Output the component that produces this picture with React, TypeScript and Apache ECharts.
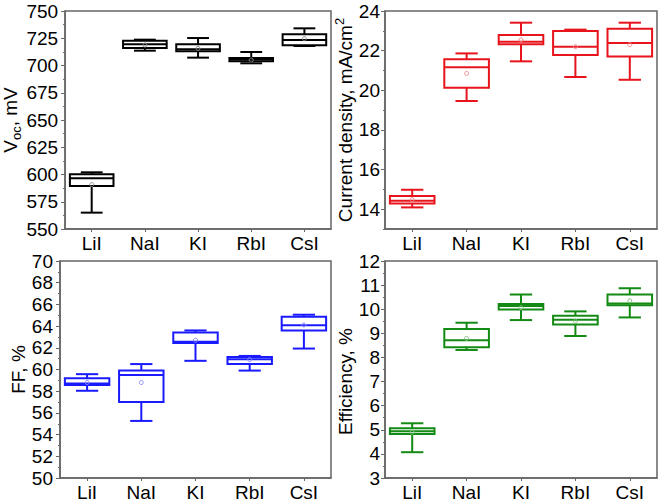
import React, { useEffect, useRef } from "react";
import * as echarts from "echarts";

const categories = ["LiI", "NaI", "KI", "RbI", "CsI"];

// Voc, mV
const vocLow = [565, 713.6, 707.2, 702, 717.9];
const vocQ1 = [589.4, 716, 713, 703.8, 718.5];
const vocMed = [596.5, 719.4, 714.8, 705.4, 723.4];
const vocQ3 = [600.2, 722.8, 719.4, 706.9, 728.6];
const vocHigh = [602, 723.7, 725.2, 712.4, 734.1];
const vocMean = [590.7, 718.8, 715.7, 705, 724.6];

// Current density, mA/cm2
const jscLow = [14.09, 19.46, 21.46, 20.67, 20.53];
const jscQ1 = [14.29, 20.13, 22.32, 21.78, 21.71];
const jscMed = [14.43, 21.16, 22.45, 22.2, 22.39];
const jscQ3 = [14.66, 21.56, 22.79, 22.99, 23.11];
const jscHigh = [14.98, 21.86, 23.41, 23.06, 23.41];
const jscMean = [14.48, 20.85, 22.54, 22.2, 22.3];

// FF, %
const ffLow = [58.04, 55.26, 60.8, 59.9, 61.93];
const ffQ1 = [58.56, 57.0, 62.45, 60.5, 63.6];
const ffMed = [58.72, 59.5, 62.55, 60.95, 64.07];
const ffQ3 = [59.2, 59.9, 63.4, 61.16, 64.86];
const ffHigh = [59.57, 60.5, 63.6, 61.25, 65.05];
const ffMean = [58.8, 58.8, 62.7, 60.9, 64.1];

// Efficiency, %
const effLow = [4.07, 8.31, 9.55, 8.89, 9.66];
const effQ1 = [4.83, 8.42, 9.99, 9.37, 10.16];
const effMed = [4.94, 8.71, 10.13, 9.56, 10.24];
const effQ3 = [5.06, 9.18, 10.22, 9.73, 10.61];
const effHigh = [5.27, 9.44, 10.61, 9.91, 10.87];
const effMean = [4.9, 8.79, 10.06, 9.51, 10.35];

// Tick values
const vocMajor = [550, 575, 600, 625, 650, 675, 700, 725, 750];
const vocMinor = [562.5, 587.5, 612.5, 637.5, 662.5, 687.5, 712.5, 737.5];
const jscMajor = [14, 16, 18, 20, 22, 24];
const jscMinor = [13, 15, 17, 19, 21, 23];
const ffMajor = [50, 52, 54, 56, 58, 60, 62, 64, 66, 68, 70];
const ffMinor = [51, 53, 55, 57, 59, 61, 63, 65, 67, 69];
const effMajor = [3, 4, 5, 6, 7, 8, 9, 10, 11, 12];
const effMinor = [3.5, 4.5, 5.5, 6.5, 7.5, 8.5, 9.5, 10.5, 11.5];

const FONT = "'Liberation Sans', Arial, sans-serif";
const FRAME = "#666666";

export default function App() {
  const ref = useRef<HTMLDivElement>(null);

  useEffect(() => {
    if (!ref.current) return;
    const chart = echarts.init(ref.current, undefined, { renderer: "svg" });

    const panels = [
      {
        grid: { left: 60, top: 11, width: 271, height: 218 },
        min: 550, max: 750, major: vocMajor, minor: vocMinor,
        low: vocLow, q1: vocQ1, med: vocMed, q3: vocQ3, high: vocHigh, mean: vocMean,
        color: "#000000", meanColor: "#8a8a8a",
        name: "{v|V}{s|oc}{v|, mV}", nameGap: 36, labelMargin: 7, namePad: [0, 0, 0, 0],
      },
      {
        grid: { left: 385, top: 11, width: 272, height: 218 },
        min: 13, max: 24, major: jscMajor, minor: jscMinor,
        low: jscLow, q1: jscQ1, med: jscMed, q3: jscQ3, high: jscHigh, mean: jscMean,
        color: "#e8141c", meanColor: "#f08a8a",
        name: "{v|Current density, mA/cm}{p|2}", nameGap: 23, labelMargin: 5, namePad: [0, 0, 0, 0],
      },
      {
        grid: { left: 60, top: 261, width: 271, height: 217 },
        min: 50, max: 70, major: ffMajor, minor: ffMinor,
        low: ffLow, q1: ffQ1, med: ffMed, q3: ffQ3, high: ffHigh, mean: ffMean,
        color: "#1a1aff", meanColor: "#8a8aff",
        name: "{v|FF, %}", nameGap: 30, labelMargin: 7, namePad: [0, 0, 0, 0],
      },
      {
        grid: { left: 385, top: 261, width: 272, height: 217 },
        min: 3, max: 12, major: effMajor, minor: effMinor,
        low: effLow, q1: effQ1, med: effMed, q3: effQ3, high: effHigh, mean: effMean,
        color: "#138a13", meanColor: "#80c080",
        name: "{v|Efficiency, %}", nameGap: 23, labelMargin: 5, namePad: [0, 24, 0, 0],
      },
    ];

    const richName = {
      v: { fontSize: 19, fontFamily: FONT, color: "#000", lineHeight: 24 },
      s: { fontSize: 13, fontFamily: FONT, color: "#000", lineHeight: 14, verticalAlign: "bottom" },
      p: { fontSize: 13, fontFamily: FONT, color: "#000", lineHeight: 14, verticalAlign: "top" },
    };

    const makeRender = (color: string, meanColor: string) => (params: any, api: any) => {
      const c = api.value(0);
      const pt = (v: number) => api.coord([c, v]);
      const [cx, yLow] = pt(api.value(1));
      const yQ1 = pt(api.value(2))[1];
      const yMed = pt(api.value(3))[1];
      const yQ3 = pt(api.value(4))[1];
      const yHigh = pt(api.value(5))[1];
      const yMean = pt(api.value(6))[1];
      const band = api.size([1, 0])[0];
      const half = band * 0.41;
      const cap = band * 0.205;
      const lw = 2;
      const ls = { stroke: color, lineWidth: lw, fill: "none" };
      return {
        type: "group",
        children: [
          { type: "line", shape: { x1: cx, y1: yQ1, x2: cx, y2: yLow }, style: ls },
          { type: "line", shape: { x1: cx, y1: yQ3, x2: cx, y2: yHigh }, style: ls },
          { type: "line", shape: { x1: cx - cap, y1: yLow, x2: cx + cap, y2: yLow }, style: ls },
          { type: "line", shape: { x1: cx - cap, y1: yHigh, x2: cx + cap, y2: yHigh }, style: ls },
          { type: "rect", shape: { x: cx - half, y: yQ3, width: 2 * half, height: yQ1 - yQ3 }, style: { ...ls, fill: "#ffffff" } },
          { type: "line", shape: { x1: cx - half, y1: yMed, x2: cx + half, y2: yMed }, style: ls },
          { type: "circle", shape: { cx, cy: yMean, r: 2 }, style: { stroke: meanColor, lineWidth: 1, fill: "none" } },
        ],
      };
    };

    const grids: any[] = [];
    const xAxes: any[] = [];
    const yAxes: any[] = [];
    const series: any[] = [];

    panels.forEach((p, i) => {
      grids.push({ ...p.grid, show: true, borderColor: FRAME, borderWidth: 1.5, backgroundColor: "transparent", containLabel: false });
      xAxes.push({
        type: "category",
        gridIndex: i,
        data: categories,
        boundaryGap: true,
        axisLine: { show: true, lineStyle: { color: FRAME, width: 1.5 } },
        axisTick: { show: true, alignWithLabel: true, inside: false, length: 3, lineStyle: { color: FRAME, width: 1 } },
        axisLabel: { fontSize: 19, fontFamily: FONT, color: "#000", margin: 5 },
        splitLine: { show: false },
      });
      yAxes.push({
        type: "value",
        gridIndex: i,
        position: "left",
        min: p.min,
        max: p.max,
        name: p.name,
        nameLocation: "middle",
        nameGap: p.nameGap,
        nameRotate: 90,
        nameTextStyle: { fontSize: 19, fontFamily: FONT, color: "#000", rich: richName, padding: p.namePad },
        axisLine: { show: true, lineStyle: { color: FRAME, width: 1.5 } },
        axisTick: { show: true, inside: false, length: 4, customValues: p.major, lineStyle: { color: FRAME, width: 1 } },
        axisLabel: { fontSize: 19, fontFamily: FONT, color: "#000", margin: p.labelMargin, customValues: p.major },
        splitLine: { show: false },
      });
      yAxes.push({
        type: "value",
        gridIndex: i,
        position: "left",
        min: p.min,
        max: p.max,
        axisLine: { show: false },
        axisTick: { show: true, inside: false, length: 2, customValues: p.minor, lineStyle: { color: FRAME, width: 1 } },
        axisLabel: { show: false },
        splitLine: { show: false },
      });
      series.push({
        type: "custom",
        xAxisIndex: i,
        yAxisIndex: i * 2,
        renderItem: makeRender(p.color, p.meanColor),
        encode: { x: 0, y: [1, 2, 3, 4, 5] },
        data: categories.map((_, k) => [k, p.low[k], p.q1[k], p.med[k], p.q3[k], p.high[k], p.mean[k]]),
        clip: false,
      });
    });

    chart.setOption({
      animation: false,
      backgroundColor: "#ffffff",
      grid: grids,
      xAxis: xAxes,
      yAxis: yAxes,
      series,
    });

    return () => chart.dispose();
  }, []);

  return (
    <div
      ref={ref}
      style={{ position: "absolute", left: 0, top: 0, width: 660, height: 503 }}
    />
  );
}
